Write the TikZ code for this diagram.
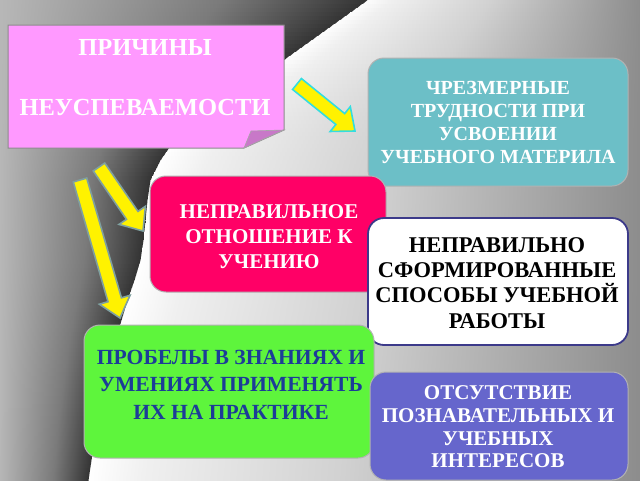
\documentclass[tikz,border=0pt]{standalone}
\usepackage{fontspec}
\setmainfont{Liberation Serif}
\usetikzlibrary{calc}
\definecolor{titlepink}{HTML}{FF99FF}
\definecolor{foldpink}{HTML}{C878C8}
\definecolor{tealbox}{HTML}{6CBFC7}
\definecolor{redbox}{HTML}{FF0066}
\definecolor{greenbox}{HTML}{5EF53C}
\definecolor{greentext}{HTML}{1C3C98}
\definecolor{purplebox}{HTML}{6666CC}
\definecolor{navyline}{HTML}{3C3A8A}
\definecolor{arrowcyan}{HTML}{33DDE0}
\definecolor{arrowgray}{HTML}{7FA0A0}
\pgfdeclarehorizontalshading{leftbg}{100bp}{color(0bp)=(black!28); color(25bp)=(black!28); color(55bp)=(black!52); color(75bp)=(black!80); color(100bp)=(black!80)}
\pgfdeclarehorizontalshading{rightbg}{100bp}{color(0bp)=(white); color(25bp)=(white); color(30bp)=(black!6); color(48bp)=(black!18); color(75bp)=(black!45); color(100bp)=(black!45)}
\newcommand\yarrow[3]{%
  \coordinate (hb) at ($(#2)!19pt!(#1)$);
  \draw[#3] ($(#1)!7pt!90:(#2)$) -- ($(hb)!7pt!90:(#2)$) -- ($(hb)!16pt!90:(#2)$) -- (#2)
    -- ($(hb)!16pt!-90:(#2)$) -- ($(hb)!7pt!-90:(#2)$) -- ($(#1)!7pt!-90:(#2)$) -- cycle;}
\begin{document}
\begin{tikzpicture}[x=1pt,y=-1pt,
  box/.style={rounded corners=16pt, inner sep=0pt, line width=1pt},
  btext/.style={align=center, inner sep=0pt},
  yarr/.style={fill=yellow, line width=1.6pt, line join=miter}]
\useasboundingbox (0,0) rectangle (640,480);
% background
\foreach \ya/\xa/\yb/\xb in {0/367/20/339, 20/339/40/311, 40/311/60/283, 60/283/80/251,
  80/251/100/222, 100/222/120/195, 120/195/140/174, 140/174/160/160, 160/160/180/150,
  180/150/200/147, 200/147/220/145, 220/145/240/143, 240/143/260/140, 260/140/280/134,
  280/134/300/127, 300/127/320/121, 320/121/340/115, 340/115/360/110, 360/110/380/105,
  380/105/400/101, 400/101/420/97, 420/97/440/94, 440/94/460/91, 460/91/480/88}{
  \foreach \k in {0,...,4}{
    \pgfmathsetmacro\yu{\ya+(\yb-\ya)*\k/5}
    \pgfmathsetmacro\yl{\ya+(\yb-\ya)*(\k+1)/5}
    \pgfmathsetmacro\xu{\xa+(\xb-\xa)*\k/5}
    \pgfmathsetmacro\xl{\xa+(\xb-\xa)*(\k+1)/5}
    \shade[shading=rightbg] (\xu,\yu) -- (641,\yu) -- (641,\yl+0.8) -- (\xl,\yl+0.8) -- cycle;
    \shade[shading=leftbg] (-1,\yu) -- (\xu+0.5,\yu) -- (\xl+0.5,\yl+0.8) -- (-1,\yl+0.8) -- cycle;
  }
}
% title box with folded corner
\filldraw[fill=titlepink, draw=black!45, line width=1pt] (8,25) -- (284,25) -- (284,130) -- (244,148) -- (8,148) -- cycle;
\filldraw[fill=foldpink, draw=black!35, line width=0.6pt] (244,148) .. controls (247,140) .. (251,131) -- (284,130) .. controls (268,137) .. (244,148) -- cycle;
\node[btext, text=white, font={\fontsize{24.5}{30}\selectfont\bfseries}] (title) at (145,78) {ПРИЧИНЫ\\[30pt]НЕУСПЕВАЕМОСТИ};
% boxes
\node[box, fill=tealbox, draw=black!30, minimum width=260pt, minimum height=128pt] (teal) at (498,122) {};
\node[btext, text=white, font={\fontsize{20}{23}\selectfont\bfseries}] (tealtxt) at (498,122.5)
  {ЧРЕЗМЕРНЫЕ\\ТРУДНОСТИ ПРИ\\УСВОЕНИИ\\УЧЕБНОГО МАТЕРИЛА};
\node[box, fill=redbox, draw=black!30, minimum width=236pt, minimum height=116pt] (red) at (268,234) {};
\node[btext, text=white, font={\fontsize{21}{25}\selectfont\bfseries}] (redtxt) at (269,237)
  {НЕПРАВИЛЬНОЕ\\ОТНОШЕНИЕ К\\УЧЕНИЮ};
\node[box, fill=white, draw=navyline, line width=1.8pt, minimum width=260pt, minimum height=127pt] (white) at (498,281.5) {};
\node[btext, text=black, font={\fontsize{22.5}{25.3}\selectfont\bfseries}] (whitetxt) at (497,283)
  {НЕПРАВИЛЬНО\\СФОРМИРОВАННЫЕ\\СПОСОБЫ УЧЕБНОЙ\\РАБОТЫ};
\node[box, fill=greenbox, draw=black!30, minimum width=290pt, minimum height=133pt] (green) at (229,391.5) {};
\node[btext, text=greentext, font={\fontsize{21.6}{27.5}\selectfont\bfseries}] (greentxt) at (231,384.5)
  {ПРОБЕЛЫ В ЗНАНИЯХ И\\УМЕНИЯХ ПРИМЕНЯТЬ\\ИХ НА ПРАКТИКЕ};
\node[box, fill=purplebox, draw=black!30, minimum width=258pt, minimum height=108pt] (purple) at (499,426) {};
\node[btext, text=white, font={\fontsize{21}{22.7}\selectfont\bfseries}] (purpletxt) at (498,427)
  {ОТСУТСТВИЕ\\ПОЗНАВАТЕЛЬНЫХ И\\УЧЕБНЫХ\\ИНТЕРЕСОВ};
% arrows
\coordinate (a1s) at (297,84);  \coordinate (a1t) at (355,131);
\coordinate (a2s) at (99,167);  \coordinate (a2t) at (143,231);
\coordinate (a3s) at (80,180);  \coordinate (a3t) at (120,318);
\yarrow{a1s}{a1t}{yarr, draw=arrowcyan}
\yarrow{a2s}{a2t}{yarr, draw=arrowgray}
\yarrow{a3s}{a3t}{yarr, draw=arrowgray}
\end{tikzpicture}
\end{document}
